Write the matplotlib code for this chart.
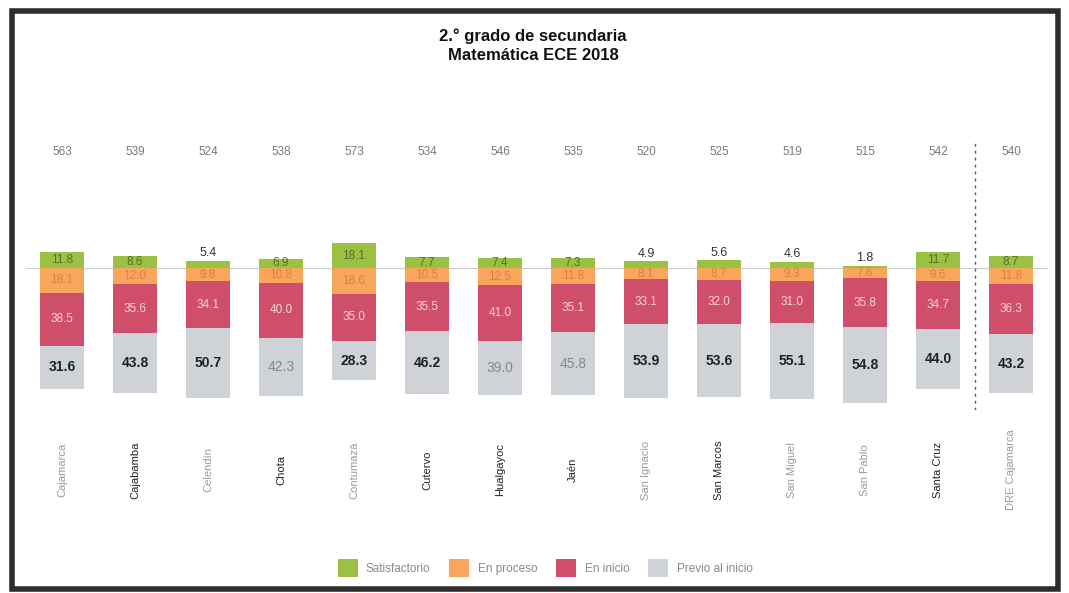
import matplotlib
matplotlib.use("Agg")
import matplotlib.pyplot as plt
from matplotlib.patches import Rectangle, Patch
import numpy as np

plt.rcParams['font.family'] = ['Liberation Sans', 'DejaVu Sans']

provinces = ["Cajamarca", "Cajabamba", "Celendín", "Chota", "Contumazá", "Cutervo",
             "Hualgayoc", "Jaén", "San Ignacio", "San Marcos", "San Miguel",
             "San Pablo", "Santa Cruz", "DRE Cajamarca"]
satisfactorio = [11.8, 8.6, 5.4, 6.9, 18.1, 7.7, 7.4, 7.3, 4.9, 5.6, 4.6, 1.8, 11.7, 8.7]
en_proceso = [18.1, 12.0, 9.8, 10.8, 18.6, 10.5, 12.5, 11.8, 8.1, 8.7, 9.3, 7.6, 9.6, 11.8]
en_inicio = [38.5, 35.6, 34.1, 40.0, 35.0, 35.5, 41.0, 35.1, 33.1, 32.0, 31.0, 35.8, 34.7, 36.3]
previo = [31.6, 43.8, 50.7, 42.3, 28.3, 46.2, 39.0, 45.8, 53.9, 53.6, 55.1, 54.8, 44.0, 43.2]
medida = [563, 539, 524, 538, 573, 534, 546, 535, 520, 525, 519, 515, 542, 540]
series_names = ["Satisfactorio", "En proceso", "En inicio", "Previo al inicio"]

c_green = '#9BC142'
c_orange = '#F8A65C'
c_red = '#CF4E69'
c_grey = '#CFD2D6'

# label appearance (scan look)
name_dark = [False, True, False, True, False, True, True, True, False, True, False, False, True, False]
previo_dark = [True, True, True, False, True, True, False, False, True, True, True, True, True, True]

fig = plt.figure(figsize=(10.69, 5.93), dpi=100)
W, H = 1069, 593
ax = fig.add_axes([25.5 / W, 1 - 410 / H, 1022 / W, 270 / H])
x = np.arange(len(provinces))
bw = 0.6

sat = np.array(satisfactorio)
pro = np.array(en_proceso)
ini = np.array(en_inicio)
prev = np.array(previo)

ax.axhline(0, color='#C8CCCC', lw=0.8, zorder=0)
ax.bar(x, sat, bw, bottom=0, color=c_green, zorder=2)
ax.bar(x, -pro, bw, bottom=0, color=c_orange, zorder=2)
ax.bar(x, -ini, bw, bottom=-pro, color=c_red, zorder=2)
ax.bar(x, -prev, bw, bottom=-pro - ini, color=c_grey, zorder=2)

for i in x:
    s = sat[i]
    if s >= 6:
        ax.text(i, s / 2, f"{s:.1f}", ha='center', va='center', fontsize=8.5, color='#5A6B2A', zorder=3)
    else:
        ax.text(i, s + 1.2, f"{s:.1f}", ha='center', va='bottom', fontsize=9, color='#333333', zorder=3)
    ax.text(i, -pro[i] / 2, f"{pro[i]:.1f}", ha='center', va='center', fontsize=8.5, color='#E07E48', zorder=3)
    ax.text(i, -pro[i] - ini[i] / 2, f"{ini[i]:.1f}", ha='center', va='center', fontsize=8.5,
            color='#F6D3DA', zorder=3)
    if previo_dark[i]:
        ax.text(i, -pro[i] - ini[i] - prev[i] / 2, f"{prev[i]:.1f}", ha='center', va='center',
                fontsize=10, color='#222222', fontweight='bold', zorder=3)
    else:
        ax.text(i, -pro[i] - ini[i] - prev[i] / 2, f"{prev[i]:.1f}", ha='center', va='center',
                fontsize=10, color='#888888', zorder=3)
    ax.text(i, 84.5, str(medida[i]), ha='center', va='center', fontsize=8.5, color='#7A7A7A')

ax.axvline(len(provinces) - 1.5, ymin=0.0, ymax=0.99, color='#555555', lw=1.0, ls=(0, (2, 3)), zorder=1)

ax.set_xlim(-0.5, len(provinces) - 0.5)
ax.set_ylim(-103.6, 93.4)
ax.axis('off')

# category labels
for i, name in enumerate(provinces):
    xf = (25.5 + (i + 0.5) * 1022 / len(provinces)) / W
    fig.text(xf, 1 - 470 / H, name, rotation=90, ha='center', va='center', fontsize=8,
             color='#222222' if name_dark[i] else '#9A9A9A')

fig.text(533 / W, 1 - 36 / H, "2.° grado de secundaria", ha='center', va='center',
         fontsize=12, fontweight='bold', color='#111111')
fig.text(533 / W, 1 - 55 / H, "Matemática ECE 2018", ha='center', va='center',
         fontsize=12, fontweight='bold', color='#111111')

handles = [Patch(facecolor=c, edgecolor='none') for c in [c_green, c_orange, c_red, c_grey]]
fig.legend(handles, series_names, loc='center', bbox_to_anchor=(545 / W, 1 - 568 / H), ncol=4,
           frameon=False, fontsize=8.5, handlelength=1.7, handleheight=1.9, columnspacing=1.6,
           handletextpad=0.7, labelcolor='#8A8A8A')

fig.patches.append(Rectangle((12 / W, 1 - 589 / H), 1046 / W, 578 / H, transform=fig.transFigure,
                             fill=False, edgecolor='#2E2E2E', lw=4))

fig.savefig("out.png", dpi=100, facecolor='white')
